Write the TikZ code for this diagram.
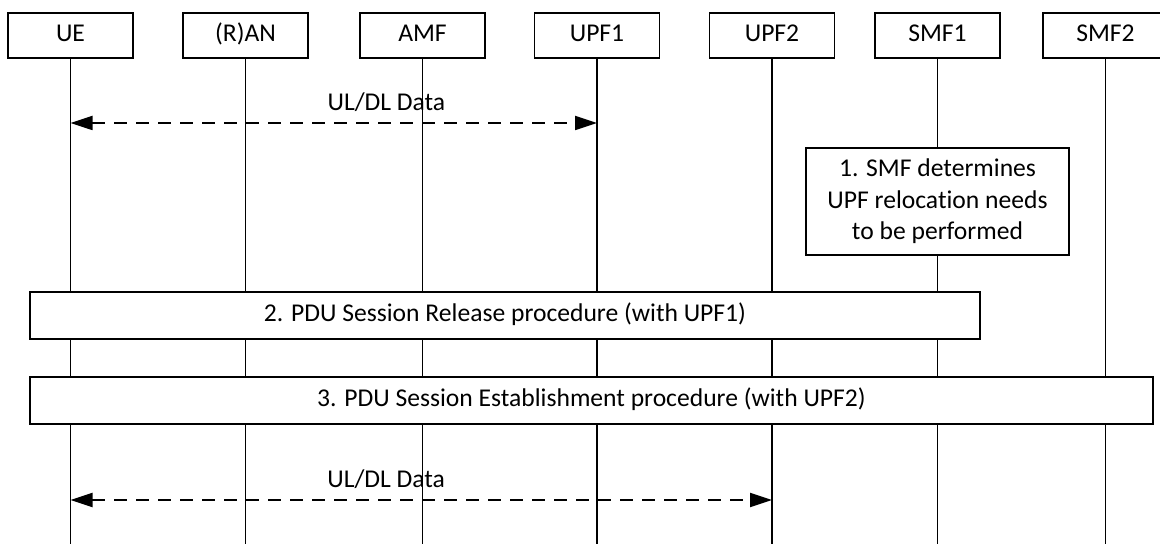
\documentclass[tikz,border=0pt]{standalone}
\usepackage{fontspec}
\setmainfont{Carlito}[Ligatures=NoCommon]
\usetikzlibrary{arrows.meta}

\begin{document}
\begin{tikzpicture}[x=0.5pt,y=-0.5pt,
    every node/.style={font=\fontsize{12.8}{15.7}\selectfont},
    entity/.style={draw,fill=white,line width=0.75pt,minimum width=62.5pt,minimum height=22.5pt,inner sep=0pt,text height=8.6pt,text depth=2.4pt},
    lifeline/.style={line width=0.9pt},
    procbox/.style={draw,fill=white,line width=0.75pt,minimum height=23.5pt,inner sep=0pt,text height=8.6pt,text depth=2.4pt},
    data/.style={dash pattern=on 6.5pt off 4.5pt,line width=0.9pt,{Triangle[length=11pt,width=7pt]}-{Triangle[length=11pt,width=7pt]}}]

    \useasboundingbox (0,0) rectangle (1160,544);

    % Network functions
    \node[entity] (ue)   at (70.5,35.5)   {UE};
    \node[entity] (ran)  at (245.5,35.5)  {(R)AN};
    \node[entity] (amf)  at (422.5,35.5)  {AMF};
    \node[entity] (upf1) at (597,35.5)    {UPF1};
    \node[entity] (upf2) at (772,35.5)    {UPF2};
    \node[entity] (smf1) at (937.5,35.5)  {SMF1};
    \node[entity] (smf2) at (1105.5,35.5) {SMF2};

    %% Lifelines
    \coordinate (bottom) at (0,544);
    \foreach \nf in {ue,ran,amf,upf1,upf2,smf1,smf2}
        \draw[lifeline] (\nf.south) -- (\nf.south |- bottom);

    %% UL/DL data with UPF1
    \coordinate (d1) at (0,123);
    \draw[data] (ue |- d1) -- (upf1 |- d1) node[above=2pt,pos=0.6] {UL/DL Data};

    %% Step 1
    \node[draw,fill=white,line width=0.75pt,minimum width=131.5pt,minimum height=53.5pt,align=center]
        (relocate) at (937.5,201.5) {1. SMF determines\\UPF relocation needs\\to be performed};

    %% Step 2 and 3
    \node[procbox,minimum width=475pt]   (release) at (505,315.5)   {2. PDU Session Release procedure (with UPF1)};
    \node[procbox,minimum width=561.5pt] (establish) at (591.5,400.5) {3. PDU Session Establishment procedure (with UPF2)};

    %% UL/DL data with UPF2
    \coordinate (d2) at (0,500);
    \draw[data] (ue |- d2) -- (upf2 |- d2) node[above=2pt,pos=0.45] {UL/DL Data};
\end{tikzpicture}
\end{document}
